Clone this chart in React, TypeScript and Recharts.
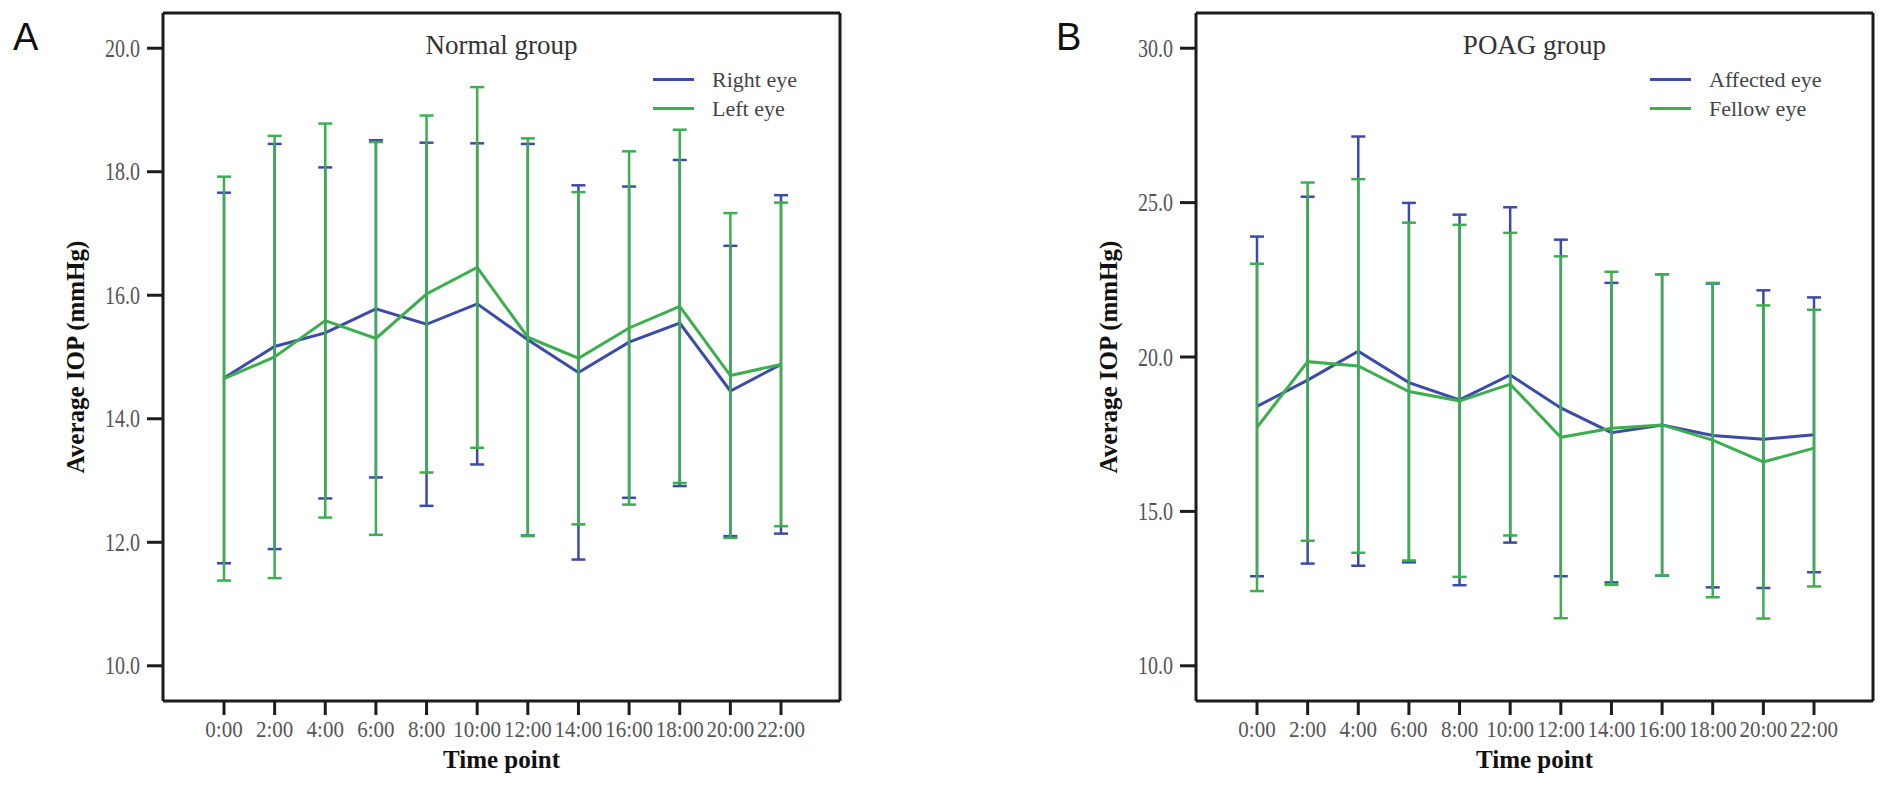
import { LineChart, Line, XAxis, YAxis, ErrorBar, Legend } from "recharts";

// time points shared by both panels
const TIMES = ["0:00", "2:00", "4:00", "6:00", "8:00", "10:00", "12:00", "14:00", "16:00", "18:00", "20:00", "22:00"];

// Panel A – normal group (mean ± SD, mmHg)
const RIGHT_MEAN = [14.66, 15.17, 15.39, 15.78, 15.53, 15.86, 15.28, 14.75, 15.24, 15.55, 14.45, 14.88];
const RIGHT_SD = [3.0, 3.28, 2.68, 2.73, 2.94, 2.6, 3.17, 3.03, 2.52, 2.64, 2.35, 2.74];
const LEFT_MEAN = [14.65, 15.0, 15.59, 15.3, 16.02, 16.45, 15.32, 14.98, 15.47, 15.82, 14.7, 14.88];
const LEFT_SD = [3.27, 3.58, 3.19, 3.18, 2.89, 2.92, 3.22, 2.69, 2.86, 2.86, 2.63, 2.62];
const TICKS_A = [10, 12, 14, 16, 18, 20];

// Panel B – POAG group
const AFFECTED_MEAN = [18.4, 19.25, 20.19, 19.17, 18.61, 19.42, 18.35, 17.55, 17.8, 17.46, 17.34, 17.48];
const AFFECTED_SD = [5.5, 5.94, 6.95, 5.82, 6.0, 5.43, 5.45, 4.85, 4.88, 4.92, 4.82, 4.45];
const FELLOW_MEAN = [17.72, 19.85, 19.71, 18.88, 18.58, 19.12, 17.4, 17.69, 17.8, 17.31, 16.6, 17.05];
const FELLOW_SD = [5.3, 5.8, 6.05, 5.47, 5.7, 4.9, 5.86, 5.07, 4.88, 5.09, 5.07, 4.48];
const TICKS_B = [10, 15, 20, 25, 30];

const BLUE = "#3C4BA8";
const GREEN = "#3DAE4F";
const SERIF = '"Liberation Serif", "Times New Roman", serif';
const FRAME = "#1c1c1c";

const rowsA = TIMES.map((time, i) => ({
  time,
  a: RIGHT_MEAN[i],
  aErr: RIGHT_SD[i],
  b: LEFT_MEAN[i],
  bErr: LEFT_SD[i],
}));

const rowsB = TIMES.map((time, i) => ({
  time,
  a: AFFECTED_MEAN[i],
  aErr: AFFECTED_SD[i],
  b: FELLOW_MEAN[i],
  bErr: FELLOW_SD[i],
}));

// the source figure is slightly stretched vertically, so tick text gets a scaleY
function YTick({ x, y, payload }: any) {
  return (
    <g transform={`translate(${x},${y})`}>
      <text transform="scale(1,1.25)" textAnchor="end" dy="0.34em" fill="#555" fontSize={20} fontFamily={SERIF}>
        {Number(payload.value).toFixed(1)}
      </text>
    </g>
  );
}

function XTick({ x, y, payload }: any) {
  return (
    <g transform={`translate(${x},${y})`}>
      <text transform="scale(1,1.1)" textAnchor="middle" dy="0.71em" fill="#555" fontSize={21} fontFamily={SERIF}>
        {payload.value}
      </text>
    </g>
  );
}

type LegendItem = { value?: string; color?: string };

function LegendBox({ payload, order }: { payload?: LegendItem[]; order: string[] }) {
  const items = order.map((name) => (payload ?? []).find((p) => p.value === name)).filter(Boolean) as LegendItem[];
  return (
    <div>
      {items.map((p) => (
        <div key={String(p.value)} style={{ display: "flex", alignItems: "center", height: 29 }}>
          <span
            style={{ display: "inline-block", width: 41, height: 3, background: p.color, marginRight: 18 }}
          />
          <span style={{ fontFamily: SERIF, fontSize: 22, color: "#444", lineHeight: "29px" }}>{p.value}</span>
        </div>
      ))}
    </div>
  );
}

function Panel({
  data,
  title,
  names,
  domain,
  ticks,
  legendLeft,
}: {
  data: typeof rowsA;
  title: string;
  names: [string, string];
  domain: [number, number];
  ticks: number[];
  legendLeft: number;
}) {
  return (
    <LineChart width={850} height={796} data={data} margin={{ top: 12, right: 9, left: 63, bottom: 25 }}>
      <XAxis
        dataKey="time"
        interval={0}
        padding={{ left: 61, right: 59 }}
        height={70}
        tickSize={14}
        tickMargin={6}
        tick={<XTick />}
        tickLine={{ stroke: FRAME, strokeWidth: 3 }}
        axisLine={{ stroke: FRAME, strokeWidth: 3 }}
        label={{
          value: "Time point",
          position: "insideBottom",
          offset: 3,
          style: { fontFamily: SERIF, fontWeight: "bold", fontSize: 25, fill: "#111" },
        }}
      />
      <XAxis
        xAxisId="top"
        orientation="top"
        dataKey="time"
        height={1}
        padding={{ left: 61, right: 59 }}
        tick={false}
        tickLine={false}
        axisLine={{ stroke: FRAME, strokeWidth: 3 }}
        label={{
          value: title,
          position: "insideTop",
          offset: 23,
          style: { fontFamily: SERIF, fontSize: 27, fill: "#333" },
        }}
      />
      <YAxis
        type="number"
        domain={domain}
        ticks={ticks}
        allowDataOverflow
        width={100}
        tickSize={16}
        tickMargin={7}
        tick={<YTick />}
        tickLine={{ stroke: FRAME, strokeWidth: 3 }}
        axisLine={{ stroke: FRAME, strokeWidth: 3 }}
        label={{
          value: "Average IOP (mmHg)",
          angle: -90,
          position: "insideLeft",
          offset: 12,
          style: { textAnchor: "middle", fontFamily: SERIF, fontWeight: "bold", fontSize: 25, fill: "#111" },
        }}
      />
      <YAxis
        yAxisId="right"
        orientation="right"
        type="number"
        domain={domain}
        width={1}
        tick={false}
        tickLine={false}
        axisLine={{ stroke: FRAME, strokeWidth: 3 }}
      />
      <Legend
        layout="vertical"
        align="center"
        verticalAlign="middle"
        wrapperStyle={{ left: legendLeft, top: 65, width: 230 }}
        content={(props: any) => <LegendBox payload={props.payload} order={names} />}
      />
      <Line
        name={names[0]}
        dataKey="a"
        stroke={BLUE}
        strokeWidth={3}
        dot={false}
        activeDot={false}
        isAnimationActive={false}
      >
        <ErrorBar dataKey="aErr" direction="y" width={7} stroke={BLUE} strokeWidth={2.5} isAnimationActive={false} />
      </Line>
      <Line
        name={names[1]}
        dataKey="b"
        stroke={GREEN}
        strokeWidth={3}
        dot={false}
        activeDot={false}
        isAnimationActive={false}
      >
        <ErrorBar dataKey="bErr" direction="y" width={7} stroke={GREEN} strokeWidth={2.5} isAnimationActive={false} />
      </Line>
    </LineChart>
  );
}

export default function App() {
  return (
    <div
      style={{
        position: "absolute",
        left: 0,
        top: 0,
        width: 1883,
        height: 796,
        overflow: "hidden",
        background: "#fff",
      }}
    >
      <div style={{ position: "absolute", left: 13, top: 18, fontFamily: '"Liberation Sans", Arial, sans-serif', fontSize: 38, lineHeight: "38px", color: "#111" }}>
        A
      </div>
      <div style={{ position: "absolute", left: 1056, top: 18, fontFamily: '"Liberation Sans", Arial, sans-serif', fontSize: 38, lineHeight: "38px", color: "#111" }}>
        B
      </div>
      <div style={{ position: "absolute", left: 0, top: 0 }}>
        <Panel
          data={rowsA}
          title="Normal group"
          names={["Right eye", "Left eye"]}
          domain={[9.43, 20.57]}
          ticks={TICKS_A}
          legendLeft={653}
        />
      </div>
      <div style={{ position: "absolute", left: 1033, top: 0 }}>
        <Panel
          data={rowsB}
          title="POAG group"
          names={["Affected eye", "Fellow eye"]}
          domain={[8.86, 31.14]}
          ticks={TICKS_B}
          legendLeft={617}
        />
      </div>
    </div>
  );
}
